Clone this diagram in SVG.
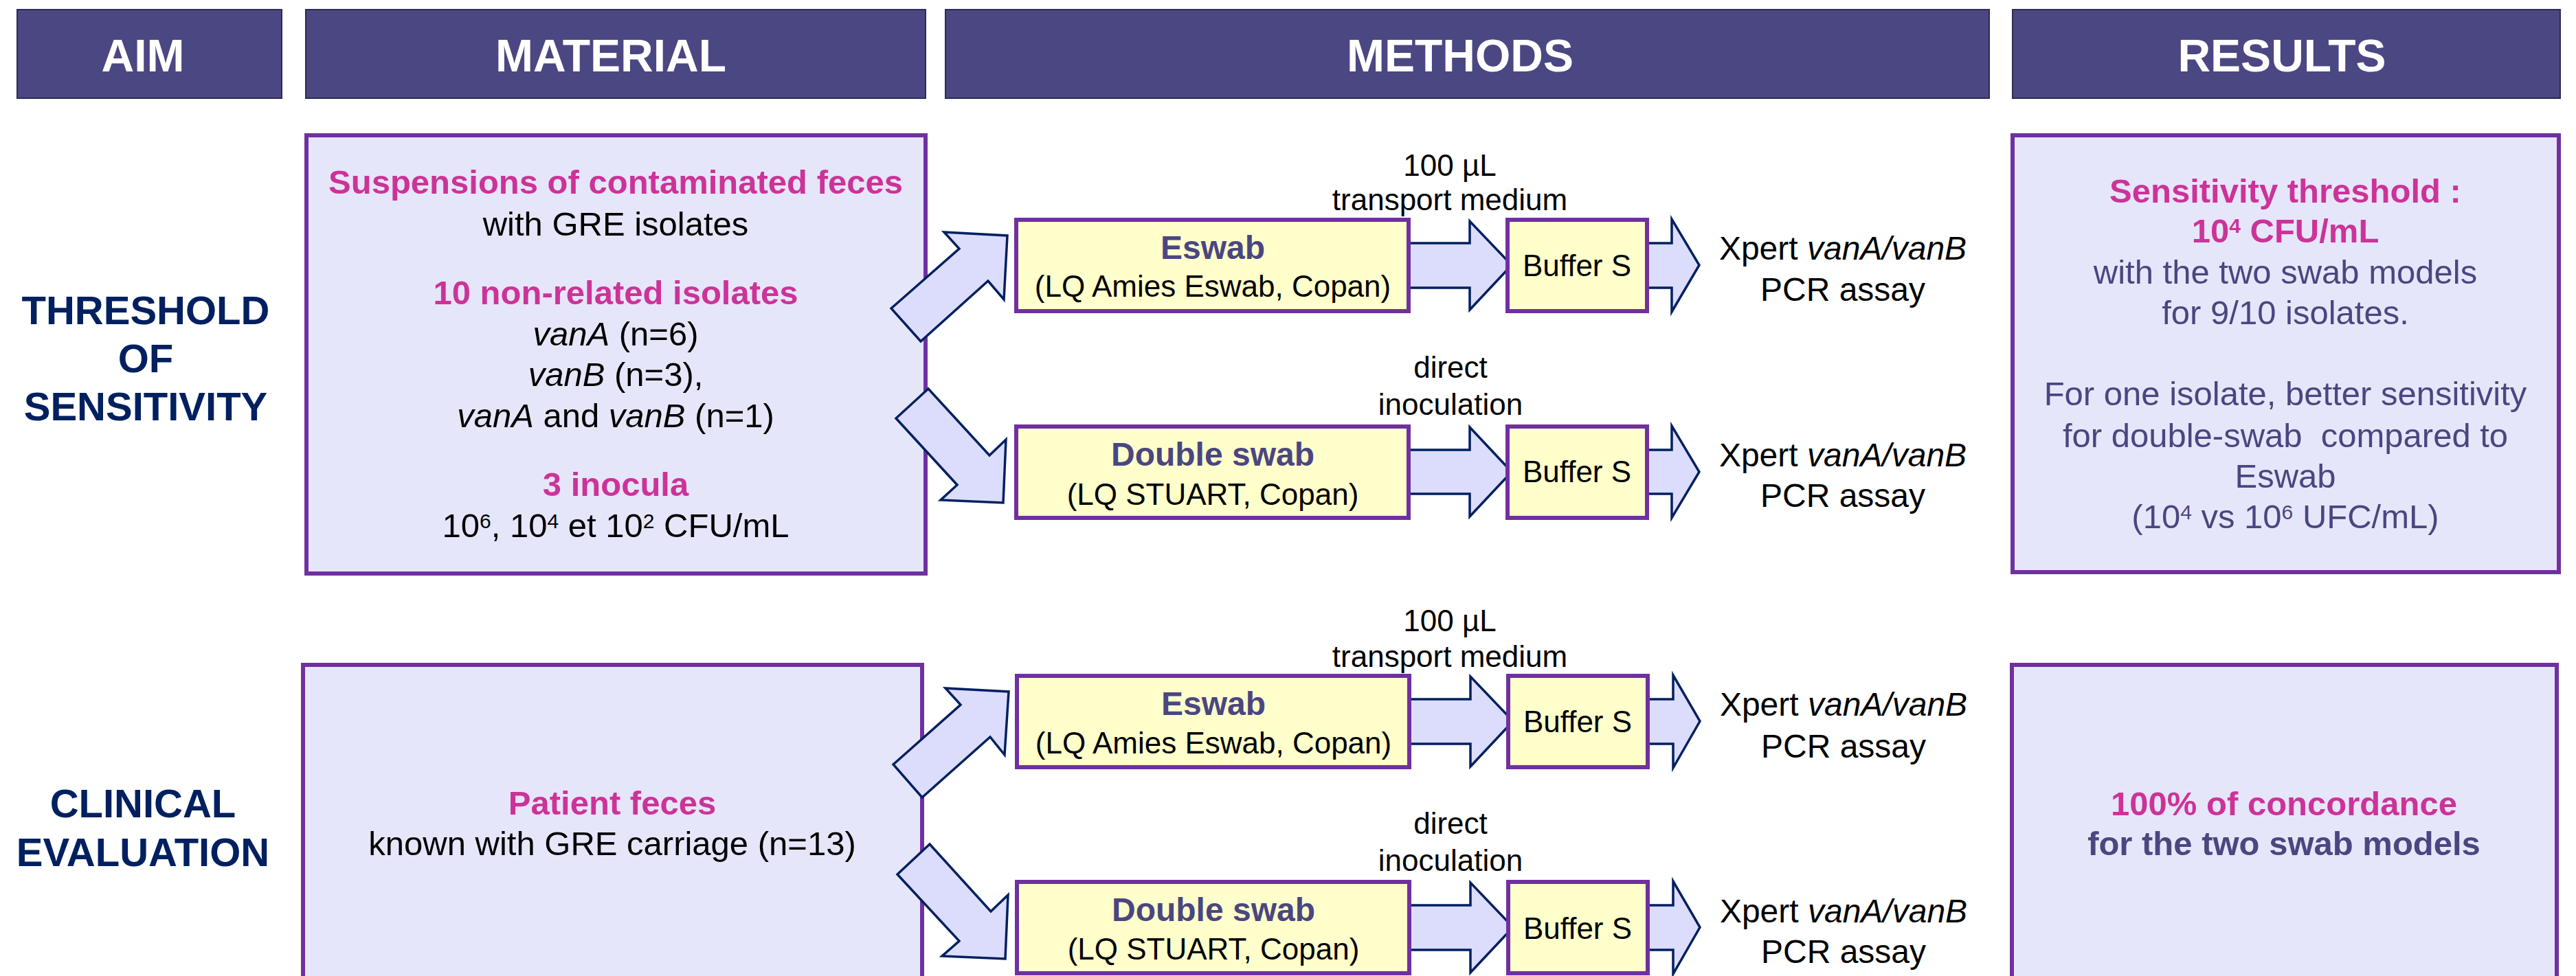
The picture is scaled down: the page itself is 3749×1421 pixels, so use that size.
<svg xmlns="http://www.w3.org/2000/svg" width="3749" height="1421" viewBox="0 0 3749 1421">
<style>
text{font-family:"Liberation Sans",Arial,sans-serif}
.hdr rect{fill:#4B4782;stroke:#2f2b55;stroke-width:2}
.hdr text{fill:#fff;font-weight:bold;font-size:66px;text-anchor:middle}
.aim{fill:#002060;font-weight:bold;font-size:58px;text-anchor:middle}
.panel{fill:#E6E6FA;stroke:#7030A0;stroke-width:6}
.swab{fill:#FFFFCC;stroke:#7030A0;stroke-width:6}
.arrow{fill:#DCDCFC;stroke:#002060;stroke-width:3.5;stroke-linejoin:miter}
.c{text-anchor:middle}
.t49{font-size:49px}
.t48{font-size:48px}
.t44{font-size:44px}
.pink{fill:#CC3399;font-weight:bold}
.blk{fill:#000}
.res{fill:#4A4680}
.b{font-weight:bold}
.i{font-style:italic}
.sup{font-size:30px}
</style>

<g id="header-aim" class="hdr"><rect x="25" y="14" width="385" height="129"/><text x="208" y="104">AIM</text></g>
<g id="header-material" class="hdr"><rect x="445" y="14" width="902" height="129"/><text x="889" y="104">MATERIAL</text></g>
<g id="header-methods" class="hdr"><rect x="1376" y="14" width="1519" height="129"/><text x="2125" y="104">METHODS</text></g>
<g id="header-results" class="hdr"><rect x="2929" y="14" width="797" height="129"/><text x="3321" y="104">RESULTS</text></g>

<g id="aim-threshold">
<text class="aim" x="212" y="472">THRESHOLD</text>
<text class="aim" x="212" y="542">OF</text>
<text class="aim" x="212" y="612">SENSITIVITY</text>
</g>
<g id="aim-clinical">
<text class="aim" x="208" y="1190">CLINICAL</text>
<text class="aim" x="208" y="1261">EVALUATION</text>
</g>

<g id="material-threshold">
<rect class="panel" x="446" y="197" width="901" height="638"/>
<text class="c t49 pink" x="896" y="282">Suspensions of contaminated feces</text>
<text class="c t49 blk" x="896" y="343">with GRE isolates</text>
<text class="c t49 pink" x="896" y="443">10 non-related isolates</text>
<text class="c t49 blk" x="896" y="503"><tspan class="i">vanA</tspan> (n=6)</text>
<text class="c t49 blk" x="896" y="562"><tspan class="i">vanB</tspan> (n=3),</text>
<text class="c t49 blk" x="896" y="622"><tspan class="i">vanA</tspan> and <tspan class="i">vanB</tspan> (n=1)</text>
<text class="c t49 pink" x="896" y="722">3 inocula</text>
<text class="c t49 blk" x="896" y="782">10<tspan class="sup" dy="-13">6</tspan><tspan dy="13">, 10</tspan><tspan class="sup" dy="-13">4</tspan><tspan dy="13"> et 10</tspan><tspan class="sup" dy="-13">2</tspan><tspan dy="13"> CFU/mL</tspan></text>
</g>

<g id="material-clinical">
<rect class="panel" x="441" y="968" width="901" height="480"/>
<text class="c t49 pink" x="891" y="1186">Patient feces</text>
<text class="c t49 blk" x="891" y="1245">known with GRE carriage (n=13)</text>
</g>

<g id="results-threshold">
<rect class="panel" x="2929" y="197" width="795" height="636"/>
<text class="c t49 pink" x="3326" y="295">Sensitivity threshold :</text>
<text class="c t49 pink" x="3326" y="353">10<tspan class="sup" dy="-14">4</tspan><tspan dy="14"> CFU/mL</tspan></text>
<text class="c t49 res" x="3326" y="413">with the two swab models</text>
<text class="c t49 res" x="3326" y="472">for 9/10 isolates.</text>
<text class="c t49 res" x="3326" y="590">For one isolate, better sensitivity</text>
<text class="c t49 res" x="3326" y="651">for double-swab&#160; compared to</text>
<text class="c t49 res" x="3326" y="710">Eswab</text>
<text class="c t49 res" x="3326" y="769">(10<tspan class="sup" dy="-13">4</tspan><tspan dy="13"> vs 10</tspan><tspan class="sup" dy="-13">6</tspan><tspan dy="13"> UFC/mL)</tspan></text>
</g>

<g id="results-clinical">
<rect class="panel" x="2928" y="968" width="793" height="480"/>
<text class="c t49 pink" x="3324" y="1187">100% of concordance</text>
<text class="c t49 res b" x="3324" y="1245">for the two swab models</text>
</g>

<g id="connectors">
<polygon class="arrow" points="1297,449 1396,362 1374,338 1466,343 1461,436 1438,409 1340,497"/>
<polygon class="arrow" points="1351,566 1304,609 1393,706 1369,728 1460,732 1464,640 1440,663"/>
<polygon class="arrow" points="1300,1113 1398,1026 1376,1002 1468,1007 1462,1099 1441,1073 1342,1161"/>
<polygon class="arrow" points="1353,1229 1306,1273 1396,1370 1371,1392 1463,1396 1467,1303 1442,1327"/>

<polygon class="arrow" points="2045,354 2139,354 2139,322 2200,386 2139,451 2139,419 2045,419"/>
<polygon class="arrow" points="2394,354 2433,354 2433,319 2473,386 2433,454 2433,419 2394,419"/>
<polygon class="arrow" points="2045,655 2139,655 2139,622 2200,687 2139,752 2139,719 2045,719"/>
<polygon class="arrow" points="2394,655 2433,655 2433,620 2473,687 2433,754 2433,719 2394,719"/>
<polygon class="arrow" points="2045,1018 2140,1018 2140,985 2202,1050 2140,1116 2140,1083 2045,1083"/>
<polygon class="arrow" points="2395,1018 2435,1018 2435,983 2474,1050 2435,1118 2435,1083 2395,1083"/>
<polygon class="arrow" points="2045,1318 2140,1318 2140,1285 2202,1350 2140,1416 2140,1383 2045,1383"/>
<polygon class="arrow" points="2395,1318 2435,1318 2435,1283 2474,1350 2435,1418 2435,1383 2395,1383"/>
</g>

<g id="label-transport-1">
<text class="c t44 blk" x="2110" y="256">100 µL</text>
<text class="c t44 blk" x="2110" y="306">transport medium</text>
</g>
<g id="label-direct-1">
<text class="c t44 blk" x="2111" y="550">direct</text>
<text class="c t44 blk" x="2111" y="604">inoculation</text>
</g>
<g id="label-transport-2">
<text class="c t44 blk" x="2110" y="919">100 µL</text>
<text class="c t44 blk" x="2110" y="971">transport medium</text>
</g>
<g id="label-direct-2">
<text class="c t44 blk" x="2111" y="1214">direct</text>
<text class="c t44 blk" x="2111" y="1268">inoculation</text>
</g>

<g id="eswab-1">
<rect class="swab" x="1479" y="320" width="571" height="133"/>
<text class="c t48 res b" x="1765" y="377">Eswab</text>
<text class="c t44 blk" x="1765" y="432">(LQ Amies Eswab, Copan)</text>
</g>
<g id="buffer-1">
<rect class="swab" x="2194" y="320" width="203" height="133"/>
<text class="c t44 blk" x="2295" y="402">Buffer S</text>
</g>
<g id="xpert-1">
<text class="c t48 blk" x="2682" y="378">Xpert <tspan class="i">vanA/vanB</tspan></text>
<text class="c t48 blk" x="2682" y="438">PCR assay</text>
</g>

<g id="double-1">
<rect class="swab" x="1479" y="621" width="571" height="133"/>
<text class="c t48 res b" x="1765" y="678">Double swab</text>
<text class="c t44 blk" x="1765" y="735">(LQ STUART, Copan)</text>
</g>
<g id="buffer-2">
<rect class="swab" x="2194" y="621" width="203" height="133"/>
<text class="c t44 blk" x="2295" y="702">Buffer S</text>
</g>
<g id="xpert-2">
<text class="c t48 blk" x="2682" y="679">Xpert <tspan class="i">vanA/vanB</tspan></text>
<text class="c t48 blk" x="2682" y="738">PCR assay</text>
</g>

<g id="eswab-2">
<rect class="swab" x="1480" y="984" width="571" height="133"/>
<text class="c t48 res b" x="1766" y="1041">Eswab</text>
<text class="c t44 blk" x="1766" y="1097">(LQ Amies Eswab, Copan)</text>
</g>
<g id="buffer-3">
<rect class="swab" x="2195" y="984" width="203" height="133"/>
<text class="c t44 blk" x="2296" y="1066">Buffer S</text>
</g>
<g id="xpert-3">
<text class="c t48 blk" x="2683" y="1042">Xpert <tspan class="i">vanA/vanB</tspan></text>
<text class="c t48 blk" x="2683" y="1103">PCR assay</text>
</g>

<g id="double-2">
<rect class="swab" x="1480" y="1284" width="571" height="133"/>
<text class="c t48 res b" x="1766" y="1341">Double swab</text>
<text class="c t44 blk" x="1766" y="1397">(LQ STUART, Copan)</text>
</g>
<g id="buffer-4">
<rect class="swab" x="2195" y="1284" width="203" height="133"/>
<text class="c t44 blk" x="2296" y="1367">Buffer S</text>
</g>
<g id="xpert-4">
<text class="c t48 blk" x="2683" y="1343">Xpert <tspan class="i">vanA/vanB</tspan></text>
<text class="c t48 blk" x="2683" y="1402">PCR assay</text>
</g>
</svg>
